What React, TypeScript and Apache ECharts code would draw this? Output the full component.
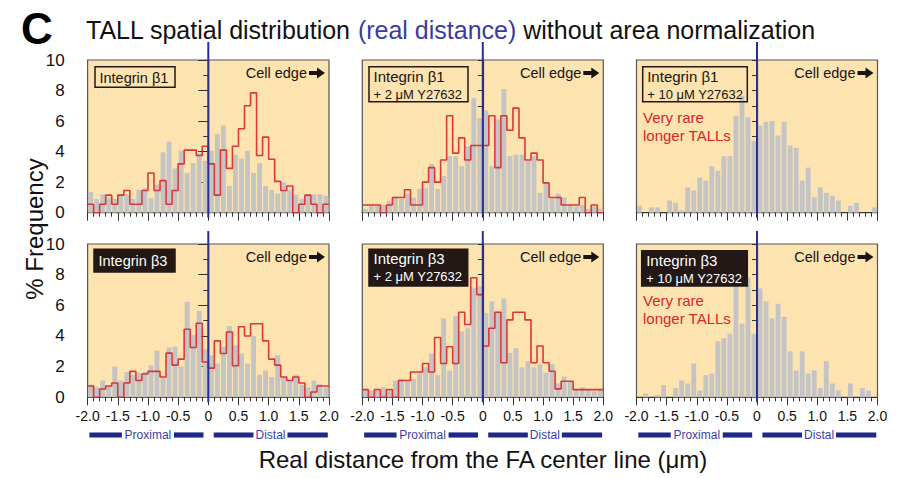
import React, { useEffect, useRef } from 'react';
import * as echarts from 'echarts';

const FONT = "'Liberation Sans', Arial, Helvetica, sans-serif";

// bin edges of the histogram (0.1 µm bins from -2.0 to 2.0)
const BIN_EDGES: number[] = Array.from({ length: 41 }, (_, i) => Math.round((-2 + i * 0.1) * 10) / 10);
const X_TICK_LABELS = ['-2.0', '-1.5', '-1.0', '-0.5', '0', '0.5', '1.0', '1.5', '2.0'];
const Y_TICK_LABELS = ['0', '2', '4', '6', '8', '10'];

// Integrin β1
const B1_GRAY = [1.35, 0.9, 1.2, 1.0, 0.9, 1.2, 1.2, 0.9, 1.5, 1.6, 0.95, 1.85, 3.95, 4.65, 2.9, 4.05, 2.6, 3.25, 3.9, 3.4, 4.05, 5.15, 5.7, 1.75, 3.8, 3.55, 4.05, 2.6, 3.25, 1.75, 1.5, 1.25, 2.0, 1.5, 1.2, 0.9, 1.2, 1.2, 1.2, 1.1];
const B1_RED = [0.55, 0, 0.55, 1.15, 0.55, 1.15, 1.45, 0.55, 0.55, 1.45, 2.6, 1.45, 2.1, 0.55, 1.45, 3.2, 4.1, 4.1, 3.75, 4.35, 3.2, 1.15, 4.1, 2.9, 4.35, 5.5, 7.0, 7.85, 3.75, 4.95, 3.5, 2.05, 1.45, 1.75, 0, 0.55, 1.15, 0.55, 0, 0.55];
// Integrin β1 + 2 µM Y27632
const B1_2_GRAY = [0.25, 0.5, 0.5, 0.5, 0.75, 1.0, 0.9, 1.25, 1.0, 1.55, 1.6, 3.2, 1.55, 2.4, 3.7, 3.7, 3.05, 4.35, 7.5, 6.2, 6.7, 3.05, 6.1, 8.1, 3.7, 3.8, 3.8, 3.4, 3.7, 1.3, 1.95, 0.9, 1.25, 1.0, 0.5, 0.4, 0.5, 0.25, 0.4, 0.25];
const B1_2_RED = [0.5, 0.5, 0.5, 0, 0.5, 1.0, 1.0, 1.5, 0.5, 0.5, 2.0, 2.95, 2.0, 3.45, 6.35, 3.9, 4.9, 3.45, 4.4, 4.4, 4.4, 6.35, 2.95, 6.35, 5.4, 6.85, 4.9, 3.45, 3.9, 3.45, 1.95, 1.0, 1.0, 0.5, 0.5, 0.5, 1.0, 0, 0.5, 0];
// Integrin β1 + 10 µM Y27632
const B1_10_GRAY = [0.45, 0, 0.35, 0.35, 0, 0.8, 0.65, 0.15, 1.65, 1.45, 2.3, 2.1, 3.05, 2.75, 3.7, 3.7, 6.35, 7.65, 6.25, 4.7, 5.7, 5.95, 6.0, 5.05, 5.95, 4.4, 4.25, 2.1, 2.95, 1.0, 1.65, 1.3, 1.1, 0.8, 0, 0.45, 0.65, 0, 0, 0.35];
// Integrin β3
const B3_GRAY = [0.82, 0.65, 1.1, 0.7, 2.0, 1.1, 1.65, 1.47, 1.6, 1.65, 2.08, 3.05, 1.25, 3.25, 3.3, 2.0, 6.23, 4.07, 5.63, 3.14, 2.73, 2.2, 3.3, 4.65, 3.4, 2.86, 2.2, 4.0, 1.47, 1.75, 1.32, 2.73, 1.32, 1.1, 1.47, 0.82, 0.65, 1.1, 0.87, 0.65];
const B3_RED = [0.74, 0, 0.54, 0.74, 0.93, 0, 0.93, 1.69, 1.1, 1.52, 1.69, 1.69, 1.32, 2.88, 2.1, 2.49, 4.44, 3.25, 4.83, 2.3, 1.9, 3.68, 2.86, 4.26, 2.06, 4.6, 4.0, 4.8, 4.8, 3.68, 2.49, 2.1, 1.32, 1.1, 1.32, 0.93, 0, 0.35, 0.74, 0.74];
// Integrin β3 + 2 µM Y27632
const B3_2_GRAY = [0.5, 0.45, 0.4, 0.65, 0.4, 1.1, 1.2, 1.05, 1.2, 1.6, 1.95, 2.85, 1.45, 5.15, 1.75, 5.3, 4.3, 4.5, 7.15, 7.25, 5.5, 6.25, 5.6, 6.45, 2.9, 3.2, 1.95, 2.35, 1.95, 2.15, 1.6, 2.15, 0.9, 1.35, 1.05, 0.5, 0.65, 0.5, 0.4, 0.5];
const B3_2_RED = [0.5, 0, 0.5, 0, 0.5, 0, 1.1, 1.1, 1.65, 1.65, 2.2, 1.65, 3.9, 2.2, 3.3, 2.2, 5.55, 4.75, 7.8, 6.7, 3.35, 4.5, 5.55, 2.25, 5.05, 5.55, 5.55, 5.05, 2.25, 3.35, 2.25, 1.7, 0.55, 1.05, 1.05, 0.5, 0.5, 0.5, 0.5, 0.5];
// Integrin β3 + 10 µM Y27632
const B3_10_GRAY = [0, 0.25, 0, 0.15, 0.8, 0, 0.6, 1.1, 0.9, 2.2, 0.45, 1.45, 1.55, 3.65, 3.85, 4.15, 7.4, 4.8, 7.8, 4.15, 7.1, 6.25, 5.15, 6.1, 5.25, 3.0, 1.75, 3.0, 1.55, 1.75, 0.6, 2.35, 0.9, 0.45, 0, 0.9, 0, 0.6, 0.45, 0];

const PANEL_LABELS = [
  ['Integrin β1'],
  ['Integrin β1', '+ 2 μM Y27632'],
  ['Integrin β1', '+ 10 μM Y27632'],
  ['Integrin β3'],
  ['Integrin β3', '+ 2 μM Y27632'],
  ['Integrin β3', '+ 10 μM Y27632'],
];
const PANEL_GRAY = [B1_GRAY, B1_2_GRAY, B1_10_GRAY, B3_GRAY, B3_2_GRAY, B3_10_GRAY];
const PANEL_RED: (number[] | null)[] = [B1_RED, B1_2_RED, null, B3_RED, B3_2_RED, null];

// layout
const COL_LEFT = [87.6, 362.3, 636.5];
const COL_W = [241.4, 241, 241];
const ROW_TOP = [60, 244];
const ROW_H = [152.7, 153.3];
const BOXES = [
  { dx: 7.4, dy: 6.7, w: 80, h: 20.6 },
  { dx: 6.7, dy: 6.7, w: 99, h: 35 },
  { dx: 6.2, dy: 6.7, w: 104.6, h: 35 },
  { dx: 6.4, dy: 5.3, w: 81, h: 22.7 },
  { dx: 6.7, dy: 5.3, w: 98.7, h: 36.7 },
  { dx: 5.2, dy: 6.7, w: 105.6, h: 35.3 },
];

const BG = '#FCE3AF';
const GRAY = '#C4C4C4';
const RED = '#D7262E';
const NAVY = '#2B2E8E';
const INK = '#1A1311';

function buildOption() {
  const grid: any[] = [];
  const xAxis: any[] = [];
  const yAxis: any[] = [];
  const series: any[] = [];
  for (let i = 0; i < 6; i++) {
    const r = Math.floor(i / 3);
    const c = i % 3;
    grid.push({
      left: COL_LEFT[c], top: ROW_TOP[r], width: COL_W[c], height: ROW_H[r],
      show: true, backgroundColor: BG, borderColor: '#555', borderWidth: 1.2,
    });
    xAxis.push({
      gridIndex: i, type: 'value', min: -2, max: 2, interval: 0.5,
      axisLine: { show: true, onZero: false, lineStyle: { color: '#333', width: 1.2 } },
      axisTick: { show: true, length: 8, lineStyle: { color: '#333', width: 1 } },
      minorTick: { show: true, splitNumber: 5, length: 4, lineStyle: { color: '#333', width: 1 } },
      splitLine: { show: false },
      axisLabel: {
        show: r === 1, margin: 12, fontSize: 14, color: '#111', fontFamily: FONT,
        formatter: (v: number) => X_TICK_LABELS[Math.round((v + 2) / 0.5)],
      },
    });
    if (c === 0) {
      yAxis.push({
        gridIndex: i, type: 'value', min: 0, max: 10, interval: 2,
        axisLine: { show: true, lineStyle: { color: '#333', width: 1.2 } },
        axisTick: { show: true, length: 10, lineStyle: { color: '#333' } },
        minorTick: { show: true, splitNumber: 2, length: 5, lineStyle: { color: '#333' } },
        splitLine: { show: false },
        axisLabel: {
          show: true, margin: 23, fontSize: 17, color: '#111', fontFamily: FONT,
          formatter: (v: number) => Y_TICK_LABELS[Math.round(v / 2)],
        },
      });
    } else {
      yAxis.push({
        gridIndex: i, type: 'value', min: 0, max: 10, interval: 1,
        axisLine: { show: true, lineStyle: { color: '#333', width: 1.2 } },
        axisTick: { show: true, length: 5, lineStyle: { color: '#333' } },
        splitLine: { show: false },
        axisLabel: { show: false },
      });
    }
    series.push({
      type: 'custom', xAxisIndex: i, yAxisIndex: i, silent: true, z: 2,
      encode: { x: [0, 1], y: 2 },
      data: PANEL_GRAY[i].map((v, k) => [BIN_EDGES[k], BIN_EDGES[k + 1], v]),
      renderItem: (params: any, api: any) => {
        const a = api.coord([api.value(0), api.value(2)]);
        const b = api.coord([api.value(1), 0]);
        return {
          type: 'rect',
          shape: { x: a[0] + 0.6, y: a[1], width: Math.max(0, b[0] - a[0] - 1.2), height: b[1] - a[1] },
          style: { fill: GRAY },
        };
      },
    });
    const red = PANEL_RED[i];
    if (red) {
      const pts = red.map((v, k) => [BIN_EDGES[k], v]);
      pts.push([BIN_EDGES[40], red[39]]);
      series.push({
        type: 'line', xAxisIndex: i, yAxisIndex: i, step: 'end', data: pts,
        symbol: 'none', silent: true, z: 3,
        lineStyle: { color: RED, width: 1.6, opacity: 0.9 },
      });
    }
  }
  return { animation: false, backgroundColor: '#fff', grid, xAxis, yAxis, series };
}

function txt(x: number, y: number, text: string, font: string, fill: string, align = 'left', extra: any = {}) {
  return {
    type: 'text', x, y, z: 100, silent: true,
    style: { text, font, fill, align, verticalAlign: 'middle' },
    ...extra,
  };
}

function buildGraphics(chart: any) {
  const g: any[] = [];
  g.push(txt(21, 28, 'C', `bold 44px ${FONT}`, '#000'));
  g.push({
    type: 'text', x: 86, y: 30, z: 100, silent: true,
    style: {
      text: '{a|TALL spatial distribution }{b|(real distance)}{a| without area normalization}',
      font: `25px ${FONT}`, verticalAlign: 'middle', align: 'left',
      rich: {
        a: { fill: '#111', font: `25px ${FONT}` },
        b: { fill: '#3A3C9E', font: `25px ${FONT}` },
      },
    },
  });
  g.push(txt(34, 229, '% Frequency', `24px ${FONT}`, '#111', 'center', { rotation: Math.PI / 2 }));
  g.push(txt(483, 459, 'Real distance from the FA center line (μm)', `24px ${FONT}`, '#111', 'center'));

  for (let i = 0; i < 6; i++) {
    const r = Math.floor(i / 3);
    const c = i % 3;
    const left = COL_LEFT[c];
    const top = ROW_TOP[r];
    const right = left + COL_W[c];
    const bottom = top + ROW_H[r];
    const p0 = chart.convertToPixel({ gridIndex: i }, [0, 0]);
    const x0 = p0[0];
    // blue centre line
    g.push({
      type: 'line', z: 90, silent: true,
      shape: { x1: x0, y1: r === 0 ? 42 : 231, x2: x0, y2: bottom + 5 },
      style: { stroke: NAVY, lineWidth: 2 },
    });
    // label box
    const b = BOXES[i];
    const dark = r === 1;
    g.push({
      type: 'rect', z: 95, silent: true,
      shape: { x: left + b.dx, y: top + b.dy, width: b.w, height: b.h },
      style: { fill: dark ? '#231815' : 'transparent', stroke: '#231815', lineWidth: 1.5 },
    });
    const lines = PANEL_LABELS[i];
    const tc = dark ? '#fff' : INK;
    if (lines.length === 1) {
      g.push(txt(left + b.dx + 4.5, top + b.dy + b.h / 2 + 0.5, lines[0], `14.5px ${FONT}`, tc));
    } else {
      g.push(txt(left + b.dx + 4.5, top + b.dy + 9.3, lines[0], `15px ${FONT}`, tc));
      g.push(txt(left + b.dx + 4.5, top + b.dy + 27.3, lines[1], `13px ${FONT}`, tc));
    }
    // cell edge
    const cy = top + 13;
    g.push(txt(right - 22, cy, 'Cell edge', `14.5px ${FONT}`, INK, 'right'));
    g.push({
      type: 'polygon', z: 100, silent: true,
      shape: {
        points: [
          [right - 20, cy - 2], [right - 12, cy - 2], [right - 12, cy - 5.5], [right - 4, cy],
          [right - 12, cy + 5.5], [right - 12, cy + 2], [right - 20, cy + 2],
        ],
      },
      style: { fill: INK },
    });
    // very rare
    if (c === 2) {
      g.push(txt(left + 6.5, top + (r === 0 ? 57.5 : 56.5), 'Very rare', `15px ${FONT}`, RED));
      g.push(txt(left + 6.5, top + (r === 0 ? 75 : 74), 'longer TALLs', `15px ${FONT}`, RED));
    }
    // proximal / distal bars
    if (r === 1) {
      const px = (v: number) => chart.convertToPixel({ gridIndex: i }, [v, 0])[0];
      const yb = 435;
      const seg = (a: number, bb: number) => g.push({
        type: 'rect', z: 100, silent: true,
        shape: { x: a, y: yb - 2.6, width: bb - a, height: 5.2 },
        style: { fill: '#1F2788' },
      });
      const pc = px(-1.0);
      seg(px(-1.97), pc - 26);
      seg(pc + 26, px(-0.08));
      g.push(txt(pc, yb, 'Proximal', `12px ${FONT}`, '#3A3FA8', 'center'));
      const dc = px(1.03);
      seg(px(0.09), dc - 17);
      seg(dc + 17, px(1.98));
      g.push(txt(dc, yb, 'Distal', `12px ${FONT}`, '#3A3FA8', 'center'));
    }
  }
  return g;
}

export default function App() {
  const ref = useRef<HTMLDivElement>(null);
  useEffect(() => {
    const chart = echarts.init(ref.current!, null, { renderer: 'svg' });
    chart.setOption(buildOption());
    chart.setOption({ graphic: buildGraphics(chart) });
    return () => chart.dispose();
  }, []);
  return (
    <div
      ref={ref}
      style={{ position: 'fixed', left: 0, top: 0, width: 898, height: 478, background: '#fff' }}
    />
  );
}
